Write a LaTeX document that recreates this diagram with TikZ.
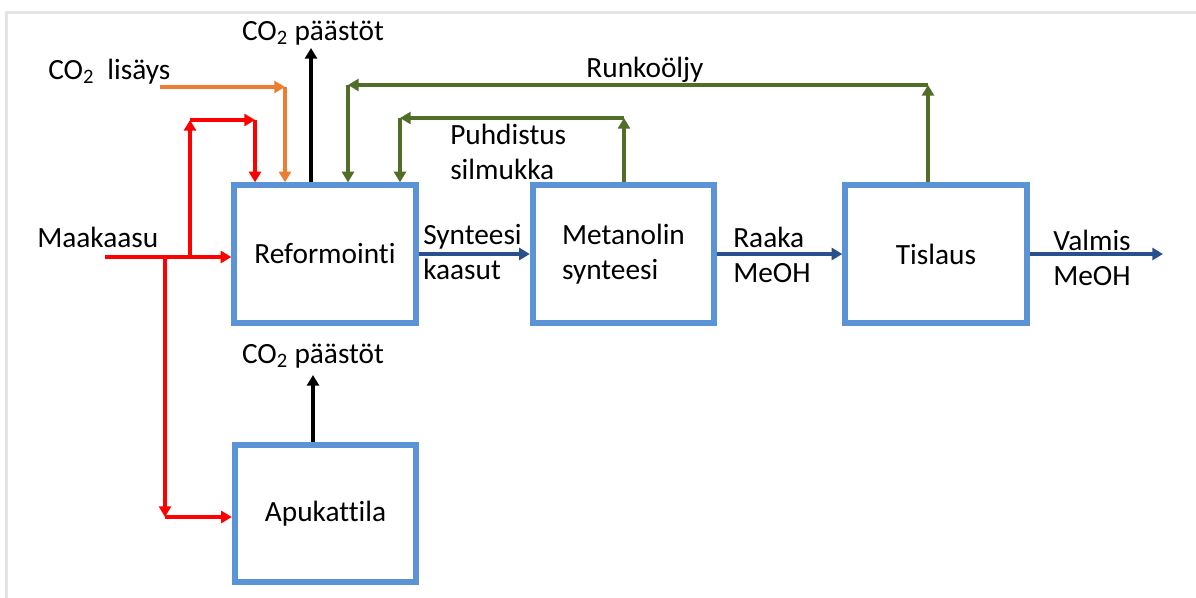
\documentclass[tikz,border=0pt]{standalone}
\usepackage{fontspec}
\setmainfont{Carlito}[Ligatures=CommonOff]
\usetikzlibrary{arrows.meta}
\definecolor{boxblue}{RGB}{91,147,215}
\definecolor{flowblue}{RGB}{40,80,140}
\definecolor{flowgreen}{RGB}{80,110,40}
\definecolor{floworange}{RGB}{237,125,49}
\definecolor{flowred}{RGB}{255,0,0}
\definecolor{framegray}{RGB}{228,228,228}
\tikzset{
  unit/.style={draw=boxblue, line width=4.5pt, minimum width=136pt, minimum height=103pt, inner sep=0pt, align=left},
  flow/.style={line width=2.6pt, -{Triangle[length=8pt,width=9pt]}},
  lbl/.style={inner sep=0pt, align=left},
}

\begin{document}
\begin{tikzpicture}[x=0.75pt,y=-0.75pt,font=\fontsize{22}{26}\selectfont]
  \useasboundingbox (0,0) rectangle (1196,598);
  \draw[framegray,line width=2.2pt] (6.5,598) -- (6.5,12.5) -- (1196,12.5);
  % process units
  \node[unit] (ref) at (325,254) {Reformointi};
  \node[unit] (met) at (623.5,254) {Metanolin\\synteesi};
  \node[unit] (tis) at (936,254) {Tislaus};
  \node[unit] (apu) at (325.5,513.5) {Apukattila};
  % labels
  \node[lbl,anchor=west] (maalbl) at (37,237) {Maakaasu};
  \node[lbl,anchor=west] (lislbl) at (48,72) {CO\textsubscript{2}\ \ lisäys};
  \node[lbl] (paa1) at (313,33) {CO\textsubscript{2} päästöt};
  \node[lbl] (paa2) at (313,356) {CO\textsubscript{2} päästöt};
  \node[lbl] (runlbl) at (645,70) {Runkoöljy};
  \node[lbl,anchor=west] (puhlbl) at (450,152) {Puhdistus\\silmukka};
  \node[lbl,anchor=west] (synlbl) at (423,252) {Synteesi\\kaasut};
  \node[lbl,anchor=west] (raalbl) at (733,255) {Raaka\\MeOH};
  \node[lbl,anchor=west] (vallbl) at (1053,258) {Valmis\\MeOH};
  % bend points
  \coordinate (maa) at (105,257);
  \coordinate (jup) at (190,257);
  \coordinate (jdn) at (165,257);
  \coordinate (rtop) at (190,120);
  \coordinate (rcor) at (255,120);
  \coordinate (adn) at (165,517);
  \coordinate (lis) at (160,87);
  \coordinate (lcor) at (285,87);
  \coordinate (em1) at (311,48);
  \coordinate (em2) at (313,375);
  \coordinate (rkR) at (928,85);
  \coordinate (rkL) at (348,85);
  \coordinate (pdR) at (624,118);
  \coordinate (pdL) at (400,118);
  \coordinate (out) at (1163,254);
  % natural gas
  \draw[flow,flowred,line width=3pt] (maa) -- (maa -| ref.west);
  \draw[flow,flowred,line width=3pt] (jup) -- (rtop);
  \draw[flow,flowred,line width=3pt] (rtop) -- (rcor);
  \draw[flow,flowred,line width=3pt] (rcor) -- (rcor |- ref.north);
  \draw[flow,flowred,line width=3pt] (jdn) -- (adn);
  \draw[flow,flowred,line width=3pt] (adn) -- (adn -| apu.west);
  % CO2 in and out
  \draw[flow,floworange] (lis) -- (lcor);
  \draw[flow,floworange] (lcor) -- (lcor |- ref.north);
  \draw[flow] (em1 |- ref.north) -- (em1);
  \draw[flow] (em2 |- apu.north) -- (em2);
  % recycle loops
  \draw[flow,flowgreen] (rkR |- tis.north) -- (rkR);
  \draw[flow,flowgreen] (rkR) -- (rkL);
  \draw[flow,flowgreen] (rkL) -- (rkL |- ref.north);
  \draw[flow,flowgreen] (pdR |- met.north) -- (pdR);
  \draw[flow,flowgreen] (pdR) -- (pdL);
  \draw[flow,flowgreen] (pdL) -- (pdL |- ref.north);
  % main line
  \draw[flow,flowblue] (ref.east) -- (met.west);
  \draw[flow,flowblue] (met.east) -- (tis.west);
  \draw[flow,flowblue] (tis.east) -- (out);
\end{tikzpicture}
\end{document}
